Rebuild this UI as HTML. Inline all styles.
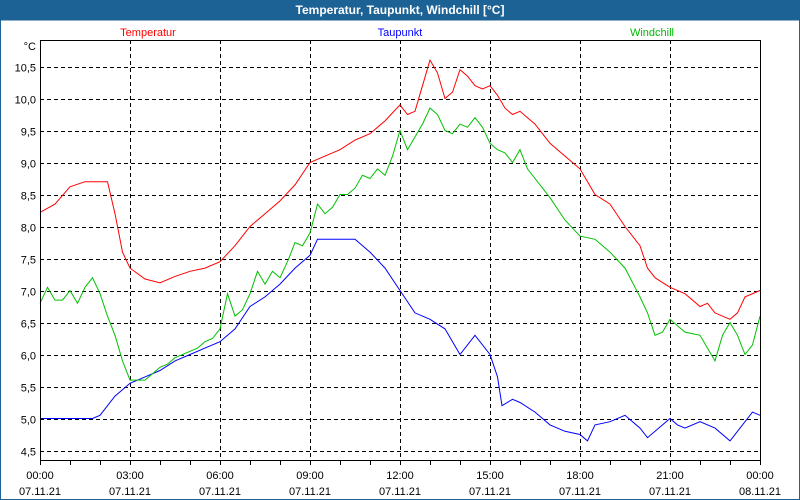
<!DOCTYPE html>
<html><head><meta charset="utf-8"><style>
body{margin:0;background:#fff;}
svg{display:block;font-family:"Liberation Sans",Tahoma,sans-serif;}
</style></head><body>
<svg id="chart" width="800" height="500" xmlns="http://www.w3.org/2000/svg">
<rect x="0" y="0" width="800" height="500" fill="#ffffff"/>
<rect x="0" y="0" width="800" height="20" fill="#1d6295"/>
<rect x="0.5" y="20" width="799" height="479.5" fill="none" stroke="#1d6295" stroke-width="1"/>
<text x="400" y="14" text-anchor="middle" fill="#fff" font-size="12" font-weight="bold">Temperatur, Taupunkt, Windchill [°C]</text>
<text x="148" y="36" text-anchor="middle" fill="#ff0000" font-size="11">Temperatur</text>
<text x="400" y="36" text-anchor="middle" fill="#0000ff" font-size="11">Taupunkt</text>
<text x="652" y="36" text-anchor="middle" fill="#00bb00" font-size="11">Windchill</text>
<text x="36" y="50" text-anchor="end" font-size="11">°C</text>
<g id="grid"></g><g id="series"></g>
<rect x="40.5" y="40.5" width="720" height="420" fill="none" stroke="#000" stroke-width="1"/>
</svg>
<script>
const yTicks=[4.5,5.0,5.5,6.0,6.5,7.0,7.5,8.0,8.5,9.0,9.5,10.0,10.5];
const xTickHours=[0,3,6,9,12,15,18,21,24];
const xTimeLabels=["00:00","03:00","06:00","09:00","12:00","15:00","18:00","21:00","00:00"];
const xDateLabels=["07.11.21","07.11.21","07.11.21","07.11.21","07.11.21","07.11.21","07.11.21","07.11.21","08.11.21"];
const tempHours=[0,0.5,1,1.5,2,2.25,2.5,2.75,3,3.5,4,4.5,5,5.5,6,6.5,7,7.5,8,8.5,9,9.5,10,10.5,11,11.5,12,12.25,12.5,12.75,13,13.25,13.5,13.75,14,14.25,14.5,14.75,15,15.25,15.5,15.75,16,16.5,17,17.5,18,18.5,19,19.5,20,20.25,20.5,21,21.5,22,22.25,22.5,23,23.25,23.5,24];
const tempValues=[8.22,8.35,8.62,8.7,8.7,8.7,8.2,7.6,7.35,7.18,7.12,7.22,7.3,7.35,7.45,7.7,8.0,8.2,8.4,8.65,9.0,9.1,9.2,9.35,9.45,9.65,9.9,9.75,9.8,10.2,10.6,10.4,10.0,10.1,10.45,10.35,10.2,10.15,10.2,10.05,9.85,9.75,9.8,9.6,9.3,9.1,8.9,8.5,8.35,8.0,7.7,7.35,7.2,7.05,6.95,6.75,6.8,6.65,6.55,6.65,6.9,7.0];
const dewHours=[0,1.75,2,2.25,2.5,3,3.5,4,4.5,5,5.5,6,6.5,7,7.5,8,8.5,9,9.25,10,10.5,11,11.5,12,12.5,13,13.5,14,14.5,15,15.25,15.4,15.75,16,16.5,17,17.5,18,18.25,18.5,19,19.5,20,20.25,20.75,21,21.25,21.5,22,22.5,23,23.25,23.75,24];
const dewValues=[5.0,5.0,5.05,5.2,5.35,5.55,5.65,5.75,5.9,6.0,6.1,6.2,6.4,6.75,6.9,7.1,7.35,7.55,7.8,7.8,7.8,7.6,7.35,7.0,6.65,6.55,6.4,6.0,6.3,6.0,5.65,5.2,5.3,5.25,5.1,4.9,4.8,4.75,4.65,4.9,4.95,5.05,4.85,4.7,4.9,5.0,4.9,4.85,4.95,4.85,4.65,4.8,5.1,5.05];
const windHours=[0,0.25,0.5,0.75,1,1.25,1.5,1.75,2,2.25,2.5,2.75,3,3.25,3.5,3.75,4,4.25,4.5,5,5.25,5.5,5.75,6,6.25,6.5,6.75,7,7.25,7.5,7.75,8,8.25,8.5,8.75,9,9.25,9.5,9.75,10,10.25,10.5,10.75,11,11.25,11.5,11.75,12,12.25,12.5,12.75,13,13.25,13.5,13.75,14,14.25,14.5,14.75,15,15.25,15.5,15.75,16,16.25,16.5,17,17.5,18,18.5,19,19.5,20,20.25,20.5,20.75,21,21.25,21.5,22,22.25,22.5,22.75,23,23.25,23.5,23.75,24];
const windValues=[6.8,7.05,6.85,6.85,7.0,6.8,7.05,7.2,6.95,6.6,6.3,5.9,5.6,5.6,5.6,5.7,5.8,5.85,5.95,6.05,6.1,6.2,6.25,6.4,6.95,6.6,6.7,6.95,7.3,7.1,7.3,7.2,7.45,7.75,7.7,7.9,8.35,8.2,8.3,8.5,8.5,8.6,8.8,8.75,8.9,8.8,9.1,9.5,9.2,9.4,9.6,9.85,9.75,9.5,9.45,9.6,9.55,9.7,9.55,9.3,9.2,9.15,9.0,9.2,8.9,8.75,8.45,8.1,7.85,7.8,7.6,7.35,6.9,6.65,6.3,6.35,6.55,6.45,6.35,6.3,6.1,5.9,6.3,6.5,6.3,6.0,6.15,6.6];
const X=h=>40+h*30;
const Y=v=>66.5+(10.5-v)*64;
const NS="http://www.w3.org/2000/svg";
const grid=document.getElementById('grid'), ser=document.getElementById('series'), svg=document.getElementById('chart');
function mk(tag,attrs,parent){const e=document.createElementNS(NS,tag);for(const k in attrs)e.setAttribute(k,attrs[k]);parent.appendChild(e);return e;}
yTicks.forEach(v=>{
  const y=Math.round(Y(v))+0.5;
  const l=mk('line',{x1:40,x2:760,y1:y,y2:y,stroke:'#000','stroke-dasharray':'4,3'},grid);
  
  
  const t=mk('text',{x:36,y:y+4,'text-anchor':'end','font-size':11},svg);
  t.textContent=v.toFixed(1).replace('.',',');
  
  
});
for(let h=0;h<=24;h++){
  const x=X(h)+0.5;
  const tk=mk('line',{x1:x,x2:x,y1:461,y2:465,stroke:'#000'},grid);
  
  
}
xTickHours.forEach((h,i)=>{
  const x=X(h)+0.5;
  if(h>0&&h<24){const l=mk('line',{x1:x,x2:x,y1:40,y2:461,stroke:'#000','stroke-dasharray':'4,3'},grid);
  
  }
  const t=mk('text',{x:X(h),y:479,'text-anchor':'middle','font-size':11},svg);
  t.textContent=xTimeLabels[i];
  
  
  const d=mk('text',{x:X(h),y:495,'text-anchor':'middle','font-size':11},svg);
  d.textContent=xDateLabels[i];
  
  
});
function line(hs,vs,color,name){
  const p=mk('polyline',{points:hs.map((h,i)=>X(h)+','+Y(vs[i])).join(' '),fill:'none',stroke:color,'stroke-width':1},ser);
  
  
}
line(dewHours,dewValues,'#0000ff','taupunkt-line');
line(windHours,windValues,'#00c000','windchill-line');
line(tempHours,tempValues,'#ff0000','temperatur-line');
</script>
</body></html>
